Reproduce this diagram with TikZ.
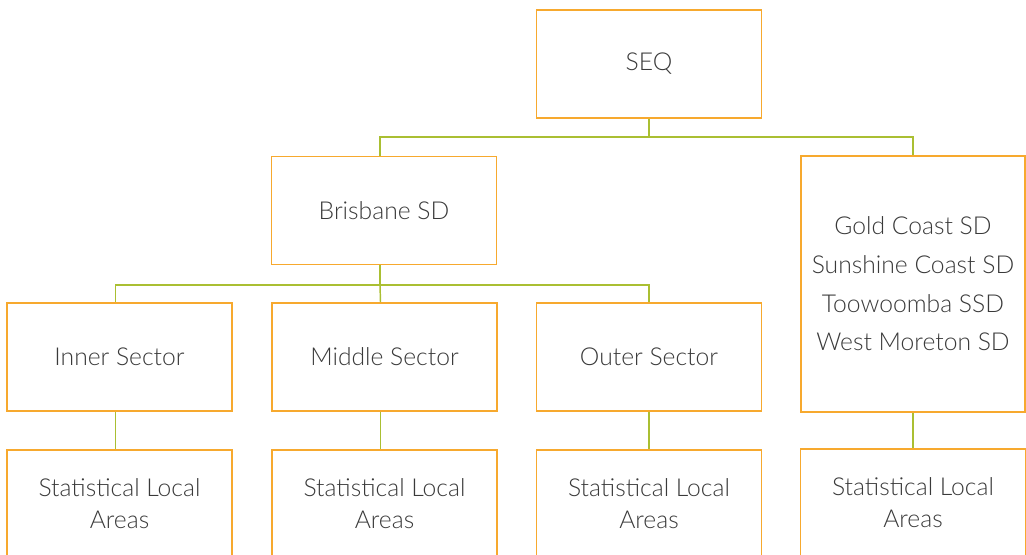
\documentclass[tikz,border=0pt]{standalone}
\usepackage{fontspec}
\setmainfont{Lato}[UprightFont=* Light]
\definecolor{boxline}{HTML}{F7A92E}
\definecolor{linkline}{HTML}{AABF32}
\definecolor{txt}{HTML}{3A3A3A}
\begin{document}
\begin{tikzpicture}[x=0.75pt,y=-0.75pt,
  unit/.style={draw=boxline, line width=1.4pt, fill=white, text=txt,
    minimum width=168.75pt, minimum height=81pt, inner sep=0pt, align=center,
    font=\fontsize{18.5pt}{24pt}\selectfont},
  link/.style={draw=linkline, line width=1.1pt}]
\useasboundingbox (0,0) rectangle (1026,555);
\clip (0,0) rectangle (1026,555);

% top level
\node[unit] (seq) at (649,64) {SEQ};

% second level
\node[unit] (bris) at (384,210.5) {Brisbane SD};
\node[unit, minimum width=168pt, minimum height=192pt,
  font=\fontsize{18.5pt}{29pt}\selectfont] (rest) at (913,284)
  {Gold Coast SD\\Sunshine Coast SD\\Toowoomba SSD\\West Moreton SD};

% sectors
\node[unit] (inner)  at (119.5,357) {Inner Sector};
\node[unit] (middle) at (384.5,357) {Middle Sector};
\node[unit] (outer)  at (649,357)   {Outer Sector};

% statistical local areas
\node[unit] (slaA) at (119.5,504) {Statistical Local\\Areas};
\node[unit] (slaB) at (384.5,504) {Statistical Local\\Areas};
\node[unit] (slaC) at (649,504)   {Statistical Local\\Areas};
\node[unit] (slaD) at (913,503)   {Statistical Local\\Areas};

% connectors
\coordinate (busA) at (649,137);
\coordinate (busB) at (380,285);
\draw[link] (seq.south) -- (busA);
\draw[link] (busA) -| ([xshift=-3pt]bris.north);
\draw[link] (busA) -| (rest.north);
\draw[link] ([xshift=-3pt]bris.south) -- (busB);
\draw[link] (busB) -| ([xshift=-3pt]inner.north);
\draw[link] (busB) -- ([xshift=-3pt]middle.north);
\draw[link] (busB) -| (outer.north);
\draw[link] ([xshift=-3pt]inner.south) -- ([xshift=-3pt]slaA.north);
\draw[link] ([xshift=-3pt]middle.south) -- ([xshift=-3pt]slaB.north);
\draw[link] (outer.south) -- (slaC.north);
\draw[link] (rest.south) -- (slaD.north);
\end{tikzpicture}
\end{document}
